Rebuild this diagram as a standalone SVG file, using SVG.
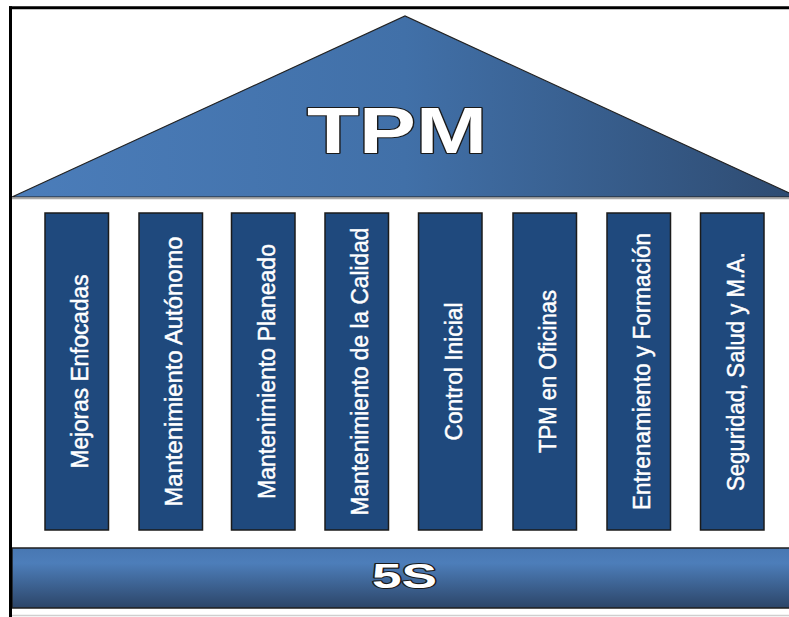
<svg xmlns="http://www.w3.org/2000/svg" width="789" height="617" viewBox="0 0 789 617">
  <defs>
    <linearGradient id="roofGrad" x1="0" y1="0" x2="1" y2="0">
      <stop offset="0" stop-color="#4b7dba"/>
      <stop offset="0.5" stop-color="#4170a8"/>
      <stop offset="1" stop-color="#2e4b71"/>
    </linearGradient>
    <linearGradient id="baseGrad" x1="0" y1="0" x2="0" y2="1">
      <stop offset="0" stop-color="#4877b2"/>
      <stop offset="0.25" stop-color="#4d7eba"/>
      <stop offset="1" stop-color="#2c4568"/>
    </linearGradient>
    <style>
      .pillar { fill: #1f497d; stroke: #1b1b1b; stroke-width: 1.5; }
      .plabel { font-family: "Liberation Sans", Arial, sans-serif; font-size: 23px; fill: #ffffff; stroke: #ffffff; stroke-width: 0.45; text-anchor: middle; }
      .big { font-family: "Liberation Sans", Arial, sans-serif; font-weight: bold; fill: #ffffff; stroke: #1a1a1a; stroke-width: 2.2; paint-order: stroke; text-anchor: middle; stroke-linejoin: round; }
    </style>
  </defs>
  <rect x="0" y="0" width="789" height="617" fill="#ffffff"/>

  <g id="roof">
    <polygon points="12,197 405,16 798,197" fill="url(#roofGrad)" stroke="#222222" stroke-width="1.2"/>
    <line x1="12" y1="198.5" x2="789" y2="198.5" stroke="#a8a8a8" stroke-width="1.5"/>
    <text class="big" x="397" y="153" font-size="64" textLength="180" lengthAdjust="spacingAndGlyphs">TPM</text>
  </g>

  <g id="pillar1">
    <rect class="pillar" x="45" y="213" width="63.5" height="317"/>
    <text class="plabel" transform="translate(88,371.5) rotate(-90)" textLength="194" lengthAdjust="spacingAndGlyphs">Mejoras Enfocadas</text>
  </g>
  <g id="pillar2">
    <rect class="pillar" x="139" y="213" width="63.5" height="317"/>
    <text class="plabel" transform="translate(182,371.5) rotate(-90)" textLength="270" lengthAdjust="spacingAndGlyphs">Mantenimiento Autónomo</text>
  </g>
  <g id="pillar3">
    <rect class="pillar" x="231.5" y="213" width="63.5" height="317"/>
    <text class="plabel" transform="translate(274.5,371.5) rotate(-90)" textLength="255" lengthAdjust="spacingAndGlyphs">Mantenimiento Planeado</text>
  </g>
  <g id="pillar4">
    <rect class="pillar" x="325" y="213" width="63.5" height="317"/>
    <text class="plabel" transform="translate(368,371.5) rotate(-90)" textLength="288" lengthAdjust="spacingAndGlyphs">Mantenimiento de la Calidad</text>
  </g>
  <g id="pillar5">
    <rect class="pillar" x="418.5" y="213" width="63.5" height="317"/>
    <text class="plabel" transform="translate(461.5,371.5) rotate(-90)" textLength="138" lengthAdjust="spacingAndGlyphs">Control Inicial</text>
  </g>
  <g id="pillar6">
    <rect class="pillar" x="513" y="213" width="63.5" height="317"/>
    <text class="plabel" transform="translate(556,371.5) rotate(-90)" textLength="163" lengthAdjust="spacingAndGlyphs">TPM en Oficinas</text>
  </g>
  <g id="pillar7">
    <rect class="pillar" x="607" y="213" width="63.5" height="317"/>
    <text class="plabel" transform="translate(650,371.5) rotate(-90)" textLength="277" lengthAdjust="spacingAndGlyphs">Entrenamiento y Formación</text>
  </g>
  <g id="pillar8">
    <rect class="pillar" x="700.5" y="213" width="63.5" height="317"/>
    <text class="plabel" transform="translate(743.5,371.5) rotate(-90)" textLength="239" lengthAdjust="spacingAndGlyphs">Seguridad, Salud y M.A.</text>
  </g>

  <g id="base">
    <rect x="12" y="548" width="780" height="60" fill="url(#baseGrad)" stroke="#1f1f1f" stroke-width="1.5"/>
    <text class="big" x="404.5" y="588" font-size="35" textLength="65" lengthAdjust="spacingAndGlyphs">5S</text>
  </g>

  <g id="frame">
    <line x1="12" y1="615.5" x2="789" y2="615.5" stroke="#cfcfcf" stroke-width="1.5"/>
    <line x1="9" y1="7.7" x2="789" y2="7.7" stroke="#000000" stroke-width="3"/>
    <line x1="10.5" y1="6.2" x2="10.5" y2="617" stroke="#000000" stroke-width="3"/>
  </g>
</svg>
